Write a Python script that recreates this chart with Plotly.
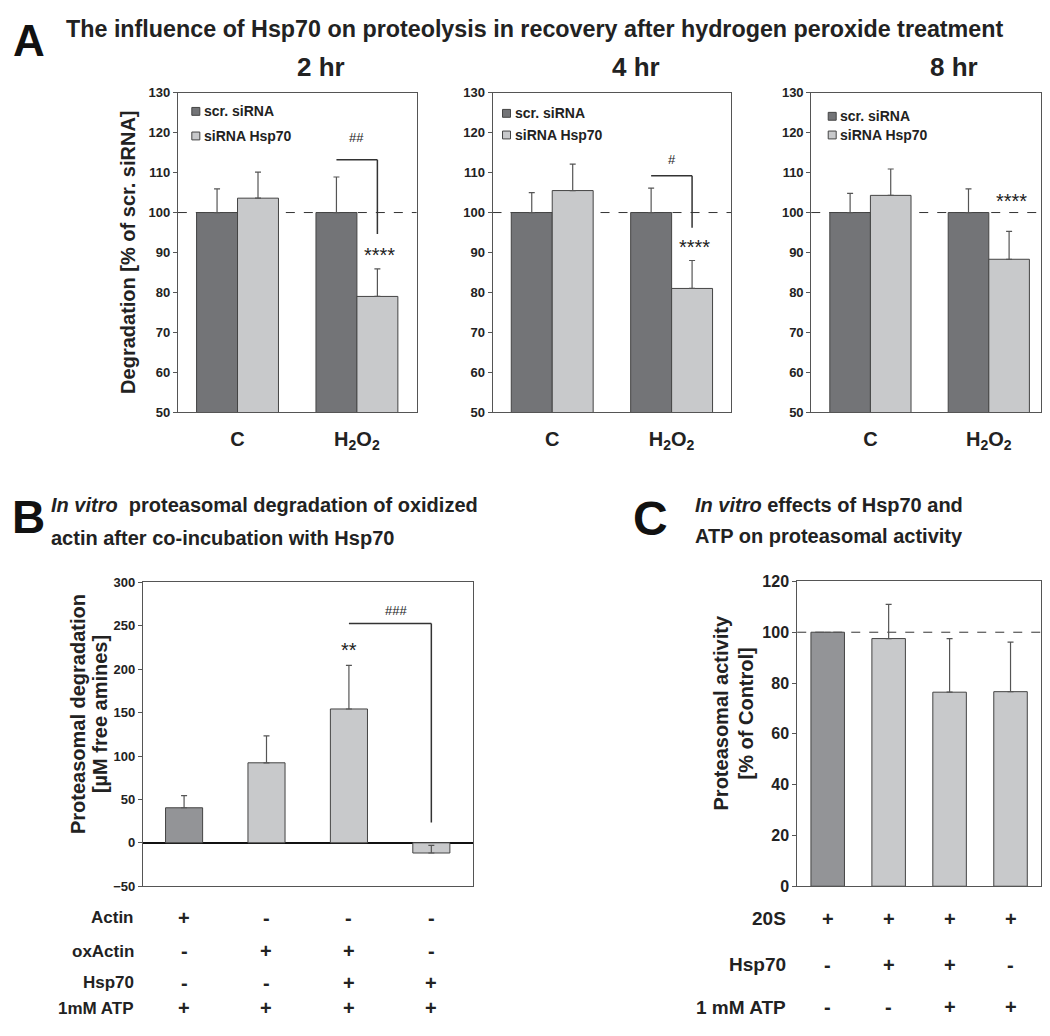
import plotly.graph_objects as go

# ---------------- data ----------------
timepoints = ["2 hr", "4 hr", "8 hr"]
conditions = ["C", "H<sub>2</sub>O<sub>2</sub>"]
series_names = ["scr. siRNA", "siRNA Hsp70"]
scr_mean = [[100, 100], [100, 100], [100, 100]]
scr_err = [[5.9, 8.9], [5.0, 6.1], [4.8, 5.9]]
sirna_mean = [[103.6, 79.0], [105.5, 81.0], [104.3, 88.3]]
sirna_err = [[6.5, 6.9], [6.6, 7.0], [6.6, 7.0]]

b_rows = ["Actin", "oxActin", "Hsp70", "1mM ATP"]
b_signs = [["+", "-", "-", "-"],
           ["-", "+", "+", "-"],
           ["-", "-", "+", "+"],
           ["+", "+", "+", "+"]]
b_mean = [40.4, 92.2, 154.2, -11.7]
b_err = [14.0, 31.0, 50.3, 8.7]

c_rows = ["20S", "Hsp70", "1 mM ATP"]
c_signs = [["+", "+", "+", "+"],
           ["-", "+", "+", "-"],
           ["-", "-", "+", "+"]]
c_mean = [100, 97.5, 76.4, 76.6]
c_err = [0, 13.5, 21.1, 19.5]

# ---------------- style ----------------
PAGE_W, PAGE_H, MARG = 1050, 1036, 8
FW, FH = PAGE_W - 2 * MARG, PAGE_H - 2 * MARG
DARK = "#737477"
LIGHT = "#c8c9cb"
MID = "#939497"
OUT = "#444444"
AXC = "#555555"
TXT = "#222222"
FONT = "Liberation Sans, Arial, sans-serif"


def fx(px):
    return min(max((px - MARG) / FW, 0.0), 1.0)


def fy(py):
    return min(max(1 - (py - MARG) / FH, 0.0), 1.0)


annotations = []
shapes = []


def ann(text, x, y, size, xref="paper", yref="paper", xanchor="center", bold=True,
        angle=0, color=TXT):
    annotations.append(dict(text=text, x=x, y=y, xref=xref, yref=yref, xanchor=xanchor,
                            yanchor="middle", showarrow=False, textangle=angle,
                            font=dict(family=FONT, size=size, color=color,
                                      weight="bold" if bold else "normal")))


fig = go.Figure()

A_x = [(178, 417), (493, 732), (812, 1049)]
A_y = (86, 411)
barw_A = 0.343

axis_common = dict(showline=True, linecolor=AXC, linewidth=1, mirror=True,
                   showgrid=False, zeroline=False)

legend_pos = [(14, 105, 130), (10, 107, 129), (17, 110, 129)]
hash_marks = ["##", "#", None]
hash_y = [118.8, 113.3, None]
bracket_y = [(113.2, 94.6), (109.2, 96.2), None]
star_y = [89.3, 91.3, 102.9]

for i in range(3):
    xa = "x" if i == 0 else f"x{i+1}"
    ya = "y" if i == 0 else f"y{i+1}"
    xl = "xaxis" if i == 0 else f"xaxis{i+1}"
    yl = "yaxis" if i == 0 else f"yaxis{i+1}"
    fig.add_trace(go.Bar(
        x=[0, 1], y=scr_mean[i], width=barw_A, offset=-barw_A,
        marker=dict(color=DARK, line=dict(color=OUT, width=1)),
        error_y=dict(type="data", array=scr_err[i], arrayminus=[0, 0], symmetric=False,
                     color=AXC, thickness=1.2, width=3),
        name=series_names[0], showlegend=False, xaxis=xa, yaxis=ya))
    fig.add_trace(go.Bar(
        x=[0, 1], y=sirna_mean[i], width=barw_A, offset=0,
        marker=dict(color=LIGHT, line=dict(color=OUT, width=1)),
        error_y=dict(type="data", array=sirna_err[i], arrayminus=[0, 0], symmetric=False,
                     color=AXC, thickness=1.2, width=3),
        name=series_names[1], showlegend=False, xaxis=xa, yaxis=ya))
    x0, x1 = A_x[i]
    # keep the same data-per-pixel scale if the right edge has to be clipped to the page
    x1c = min(x1, PAGE_W - MARG)
    upper = -0.5 + 2.0 * (x1c - x0) / (x1 - x0)
    fig.layout[xl] = dict(domain=[fx(x0), fx(x1c)], range=[-0.5, upper], anchor=ya,
                          tickvals=[0, 1], ticktext=conditions, ticks="",
                          ticklabelstandoff=9,
                          tickfont=dict(family=FONT, size=20, color=TXT, weight="bold"),
                          **axis_common)
    fig.layout[yl] = dict(domain=[fy(A_y[1]), fy(A_y[0])], range=[50, 130], anchor=xa,
                          tick0=50, dtick=10, ticks="outside", ticklen=4, tickcolor=AXC,
                          tickfont=dict(family=FONT, size=13, color=TXT, weight="bold"),
                          **axis_common)
    shapes.append(dict(type="line", xref=f"{xa} domain", yref=ya, x0=0, x1=1, y0=100, y1=100,
                       line=dict(color="#333", width=1, dash="dash"), layer="below"))
    ann(timepoints[i], fx((x0 + x1) / 2 + 24), fy(60), 26)
    lx, ly1, ly2 = legend_pos[i]
    for col, nm, ly in [(DARK, series_names[0], ly1), (LIGHT, series_names[1], ly2)]:
        shapes.append(dict(type="rect", xref="paper", yref="paper",
                           x0=fx(x0 + lx), x1=fx(x0 + lx + 8), y0=fy(ly + 4), y1=fy(ly - 4),
                           fillcolor=col, line=dict(color=OUT, width=1)))
        ann(nm, fx(x0 + lx + 10), fy(ly), 14, xanchor="left")
    ann("****", 1.19, star_y[i], 20, xref=xa, yref=ya, bold=False)
    if hash_marks[i]:
        ann(hash_marks[i], 1.0, hash_y[i], 13, xref=xa, yref=ya, bold=False)
        yb0, yb1 = bracket_y[i]
        shapes.append(dict(type="line", xref=xa, yref=ya, x0=1 - barw_A / 2, x1=1 + barw_A / 2,
                           y0=yb0, y1=yb0, line=dict(color="#333", width=1.5)))
        shapes.append(dict(type="line", xref=xa, yref=ya, x0=1 + barw_A / 2, x1=1 + barw_A / 2,
                           y0=yb0, y1=yb1, line=dict(color="#333", width=1.5)))

ann("Degradation [% of scr. siRNA]", fx(128), fy(248), 20, angle=-90)
ann("A", fx(11), fy(33), 44, xanchor="left", color="#111")
ann("The influence of Hsp70 on proteolysis in recovery after hydrogen peroxide treatment",
    fx(64), fy(21), 23.3, xanchor="left")

# ---------------- Panel B ----------------
bw_B = 0.45
fig.add_trace(go.Bar(
    x=list(range(4)), y=b_mean, width=bw_B,
    marker=dict(color=[MID, LIGHT, LIGHT, LIGHT], line=dict(color=OUT, width=1)),
    error_y=dict(type="data", array=b_err, arrayminus=[0] * 4, symmetric=False,
                 color=AXC, thickness=1.2, width=3),
    showlegend=False, xaxis="x4", yaxis="y4"))
fig.layout["xaxis4"] = dict(domain=[fx(143), fx(473)], range=[-0.5, 3.5], anchor="y4",
                            showticklabels=False, ticks="", **axis_common)
fig.layout["yaxis4"] = dict(domain=[fy(893), fy(584)], range=[-50, 300], anchor="x4",
                            tick0=-50, dtick=50, ticks="outside", ticklen=4, tickcolor=AXC,
                            tickfont=dict(family=FONT, size=13, color=TXT, weight="bold"),
                            showline=True, linecolor=AXC, linewidth=1, mirror=True,
                            showgrid=False, zeroline=True, zerolinecolor="#111", zerolinewidth=1.5)
ann("**", 2, 222, 20, xref="x4", yref="y4", bold=False)
ann("###", 2.57, 268, 13, xref="x4", yref="y4", bold=False)
shapes.append(dict(type="line", xref="x4", yref="y4", x0=2, x1=3, y0=252.8, y1=252.8,
                   line=dict(color="#333", width=1.5)))
shapes.append(dict(type="line", xref="x4", yref="y4", x0=3, x1=3, y0=252.8, y1=23.4,
                   line=dict(color="#333", width=1.5)))
ann("Proteasomal degradation", fx(78), fy(718), 20, angle=-90)
ann("[µM free amines]", fx(100), fy(718), 20, angle=-90)
b_row_y = [925, 959, 991, 1017]
for r, lab in enumerate(b_rows):
    ann(lab, fx(136), fy(b_row_y[r]), 17, xanchor="right")
    for j, s in enumerate(b_signs[r]):
        ann(s, j, fy(b_row_y[r]), 20, xref="x4")
ann("B", fx(10), fy(517), 46, xanchor="left", color="#111")
ann("<i>In vitro</i>\u00a0 proteasomal degradation of oxidized", fx(49), fy(505), 20, xanchor="left")
ann("actin after co-incubation with Hsp70", fx(49), fy(539), 20, xanchor="left")

# ---------------- Panel C ----------------
bw_C = 0.55
fig.add_trace(go.Bar(
    x=list(range(4)), y=c_mean, width=bw_C,
    marker=dict(color=[MID, LIGHT, LIGHT, LIGHT], line=dict(color=OUT, width=1)),
    error_y=dict(type="data", array=c_err, arrayminus=[0] * 4, symmetric=False,
                 color=AXC, thickness=1.2, width=3),
    showlegend=False, xaxis="x5", yaxis="y5"))
fig.layout["xaxis5"] = dict(domain=[fx(798), fx(1042)], range=[-0.5, 3.5], anchor="y5",
                            showticklabels=False, ticks="", **axis_common)
fig.layout["yaxis5"] = dict(domain=[fy(893), fy(583)], range=[0, 120], anchor="x5",
                            tick0=0, dtick=20, ticks="outside", ticklen=4, tickcolor=AXC,
                            tickfont=dict(family=FONT, size=16, color=TXT, weight="bold"),
                            **axis_common)
shapes.append(dict(type="line", xref="x5 domain", yref="y5", x0=0, x1=1, y0=100, y1=100,
                   line=dict(color="#333", width=1, dash="dash"), layer="below"))
ann("Proteasomal activity", fx(722), fy(717), 20, angle=-90)
ann("[% of Control]", fx(747), fy(717), 20, angle=-90)
c_row_y = [926, 973, 1016]
for r, lab in enumerate(c_rows):
    ann(lab, fx(789), fy(c_row_y[r]), 19, xanchor="right")
    for j, s in enumerate(c_signs[r]):
        ann(s, j, fy(c_row_y[r]), 20, xref="x5")
ann("C", fx(632), fy(519), 48, xanchor="left", color="#111")
ann("<i>In vitro</i> effects of Hsp70 and", fx(694), fy(505), 20, xanchor="left")
ann("ATP on proteasomal activity", fx(694), fy(537), 20, xanchor="left")

fig.update_layout(width=FW, height=FH, margin=dict(l=0, r=0, t=0, b=0),
                  paper_bgcolor="white", plot_bgcolor="white", barmode="overlay",
                  annotations=annotations, shapes=shapes,
                  font=dict(family=FONT, color=TXT))

fig.write_html("out.html")
